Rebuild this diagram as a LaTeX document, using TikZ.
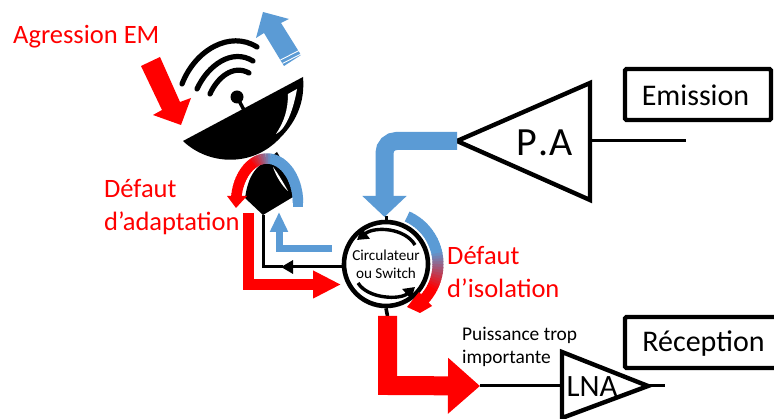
\documentclass[tikz,border=0pt]{standalone}
\usepackage{fontspec}
\setmainfont{Carlito}
\usetikzlibrary{arrows.meta}
\definecolor{bluepipe}{RGB}{91,155,213}
\tikzset{
  x=1pt,y=-1pt,
  ampbox/.style={draw=black,line width=4.4pt,line join=miter},
  framebox/.style={draw=black,line width=4.4pt,rounded corners=1.5pt,minimum width=146pt,minimum height=51pt},
  wire/.style={draw=black,line width=3pt},
  wave/.style={draw=black,line width=5.2pt,line cap=round},
  redlabel/.style={text=red,font=\fontsize{26.5}{33}\selectfont,align=left,anchor=west,inner sep=0pt},
  boxtext/.style={font=\fontsize{30}{36}\selectfont,inner sep=0pt},
  bigblue/.style={draw=bluepipe,line width=18pt,-{Triangle[length=21pt,width=43pt]}},
  bigred/.style={draw=red,line width=19pt,-{Triangle[length=32pt,width=54pt]}},
  midred/.style={draw=red,line width=11pt,-{Triangle[length=28pt,width=26pt]}},
  midblue/.style={draw=bluepipe,line width=7pt,-{Triangle[length=20pt,width=17pt]}},
  thinblack/.style={draw=black,line width=3pt,-{Triangle[length=12pt,width=13pt]}},
  ringarrow/.style={draw=black,line width=3.4pt,-{Triangle[length=11pt,width=13pt]}},
}
\begin{document}
\begin{tikzpicture}
\fill[white] (0,0) rectangle (774,419);
\useasboundingbox (0,0) rectangle (774,419);

% ---- satellite dish
\fill[black] (183,141) .. controls (208,165) and (252,168) .. (280,138)
   .. controls (298,120) and (305,100) .. (303,77) -- cycle;
\fill[white] (297,89) -- (288,94) .. controls (288,110) and (284,122) .. (276,134)
   .. controls (285,130) and (293,112) .. (297,89) -- cycle;
\fill[black] (237,97) circle (6.5);
\draw[black,line width=3.5pt] (237,97) -- (244,110);
\draw[wave] (182,84) .. controls (195,50) and (230,30) .. (257,47);
\draw[wave] (197,89) .. controls (208,65) and (232,48) .. (253,61);
\draw[wave] (210,94) .. controls (217,78) and (233,64) .. (249,73);

% ---- lower horn
\fill[black] (263,215) -- (245,198) .. controls (247,185) and (250,175) .. (258,167)
   -- (277,152) .. controls (285,165) and (291,180) .. (293,197) -- cycle;
\fill[white] (273,167) .. controls (277,172) and (283,182) .. (288,191)
   .. controls (282,186) and (276,176) .. (273,167) -- cycle;

% ---- aggression arrows
\fill[red] (141,66) -- (160,57) -- (180,102) -- (191,98) -- (181,125) -- (153,115) -- (162,110) -- cycle;
\fill[bluepipe] (263,12) -- (289,19) -- (281,23) -- (301,55) -- (284,66) -- (264,33) -- (256,38) -- cycle;
\draw[white,line width=0.9pt] (280.5,60) -- (299,50.5);
\draw[white,line width=0.9pt] (282.5,63.5) -- (301,54);

% ---- named nodes
\node[circle,draw=black,line width=4.6pt,minimum size=84pt,inner sep=0pt,align=center,
      font=\fontsize{15.2}{18}\selectfont] (circ) at (386,264) {Circulateur\\ou Switch};
\coordinate (horn) at (263,215);
\coordinate (hornL) at (248.5,213);
\coordinate (hornR) at (279,212);
\coordinate (paL) at (457,141);
\coordinate (paT) at (590,83);
\coordinate (paB) at (590,200);
\coordinate (paOut) at (686,141);
\coordinate (lnaT) at (562,352);
\coordinate (lnaB) at (562,418);
\coordinate (lnaTip) at (648,386);
\coordinate (lnaOut) at (665,386);
\coordinate (redEnd) at (480,386);
\coordinate (redStart) at (387.5,316);

% ---- amplifiers
\draw[ampbox] (paL) -- (paT) -- (paB) -- cycle;
\draw[ampbox] (lnaT) -- (lnaTip) -- (lnaB) -- cycle;
\node[font=\fontsize{40}{48}\selectfont,inner sep=0pt] (patext) at (544.5,143) {P\kern1pt.\kern1pt A};
\node[font=\fontsize{31}{37}\selectfont,inner sep=0pt] (lnatext) at (592,387) {LNA};

% ---- boxes
\node[framebox] (embox) at (698,94.5) {};
\node[framebox,minimum width=170pt] (recbox) at (710,342.5) {};
\node[boxtext] (emtext) at (695.5,95) {Emission};
\node[boxtext] (rectext) at (703.5,344) {Réception};

% ---- black wires
\draw[wire] (590,141) -- (paOut);
\draw[wire] (redEnd) -- (562,386);
\draw[wire] (lnaTip) -- (lnaOut);
\draw[black,line width=3.6pt] (circ.south) -- (redStart);
\draw[black,line width=3pt] (circ.north) -- ++(0,-4);
\draw[thinblack] (circ.west |- 0,267) -- (281,267);
\draw[wire] (283,267) -- (263,267) -- (horn);

% ---- thick signal paths
\draw[bigblue,rounded corners=12pt] (paL) -- (384.5,141) -- (384.5,217);
\draw[bigred] (redStart) -- (387.5,385.5) -- (redEnd);
\draw[midred] (hornL) -- (248.5,284.5) -- (341,284.5);
\draw[midblue] (332,249) -- (279,249) -- (hornR);

% ---- inner circulator arrows
\draw[ringarrow] (415,245) .. controls (405,228) and (375,226) .. (357,240);
\draw[ringarrow] (358,283) .. controls (368,299) and (400,300) .. (415,287);

% ---- gradient arcs
\foreach \t in {0,4,...,168}{
  \pgfmathsetmacro\xa{267+31*cos(\t)}
  \pgfmathsetmacro\ya{203-44.5*sin(\t)}
  \pgfmathsetmacro\xb{267+31*cos(\t+5)}
  \pgfmathsetmacro\yb{203-44.5*sin(\t+5)}
  \pgfmathsetmacro\m{max(0,min(100,(\xa-253)/19*100))}
  \colorlet{segcol}{bluepipe!\m!red}
  \draw[segcol,line width=10.5pt] (\xa,\ya) -- (\xb,\yb);
}
\fill[bluepipe] (292.8,203) rectangle (303.3,207);
\fill[red] (227,196) -- (247,196) -- (236,208) -- cycle;

\foreach \t in {66,63,...,-44}{
  \pgfmathsetmacro\xa{386+52*cos(\t)}
  \pgfmathsetmacro\ya{264-52*sin(\t)}
  \pgfmathsetmacro\xb{386+52*cos(\t-4)}
  \pgfmathsetmacro\yb{264-52*sin(\t-4)}
  \pgfmathsetmacro\m{max(0,min(100,(287-\ya)/37*100))}
  \colorlet{segcol}{bluepipe!\m!red}
  \draw[segcol,line width=11pt] (\xa,\ya) -- (\xb,\yb);
}
\fill[red] (407,307) -- (419,292) -- (432,306) -- (420,313) -- cycle;

% ---- labels
\node[redlabel] (agr) at (13,37) {Agression EM};
\node[redlabel] (defa) at (104,207) {Défaut\\d’adaptation};
\node[redlabel] (defi) at (447,272) {Défaut\\d’isolation};
\node[font=\fontsize{19.4}{23}\selectfont,align=left,anchor=west,inner sep=0pt] (pui) at (462,347) {Puissance trop\\importante};
\end{tikzpicture}
\end{document}
